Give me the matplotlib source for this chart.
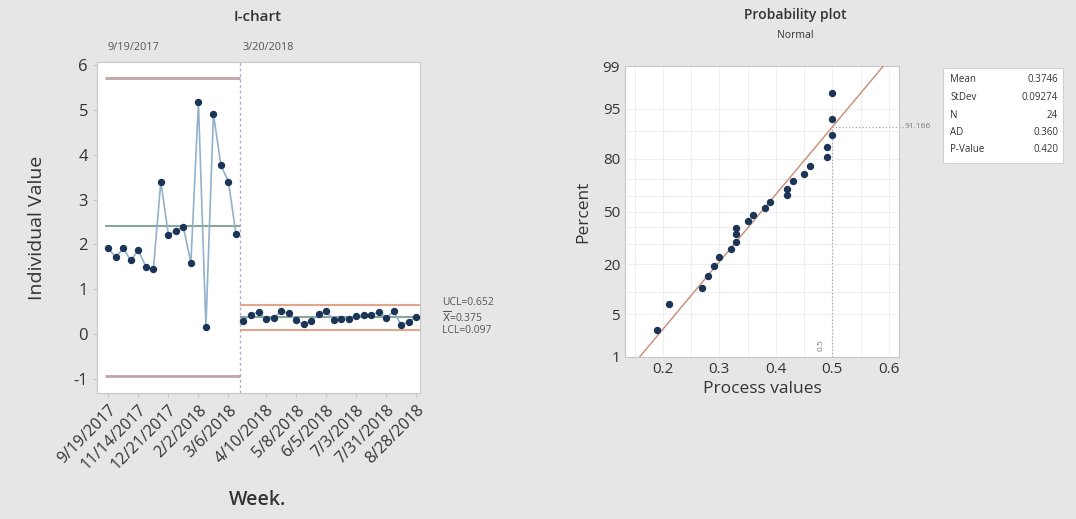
import matplotlib
matplotlib.use('Agg')
import matplotlib.pyplot as plt
from matplotlib.patches import Rectangle
from statistics import NormalDist
import numpy as np

plt.rcParams['font.family'] = ['Open Sans', 'DejaVu Sans']
plt.rcParams['axes.unicode_minus'] = False

# I-chart data (two stages)
stage1_values = [1.91, 1.71, 1.91, 1.64, 1.87, 1.50, 1.44, 3.40, 2.21, 2.30,
                 2.38, 1.59, 5.17, 0.16, 4.91, 3.76, 3.40, 2.23]
stage2_values = [0.29, 0.43, 0.49, 0.33, 0.35, 0.50, 0.46, 0.30, 0.21, 0.28,
                 0.45, 0.50, 0.32, 0.33, 0.33, 0.39, 0.42, 0.42, 0.49, 0.36,
                 0.50, 0.19, 0.27, 0.38]
stage_names = ['9/19/2017', '3/20/2018']
stage_center = [2.41, 0.375]
stage_ucl = [5.71, 0.652]
stage_lcl = [-0.93, 0.097]
week_ticks = [0, 4, 8, 12, 16, 21, 25, 29, 33, 37, 41]
week_labels = ['9/19/2017', '11/14/2017', '12/21/2017', '2/2/2018', '3/6/2018',
               '4/10/2018', '5/8/2018', '6/5/2018', '7/3/2018', '7/31/2018',
               '8/28/2018']

# probability plot summary
stats_names = ['Mean', 'StDev', 'N', 'AD', 'P-Value']
stats_values = ['0.3746', '0.09274', '24', '0.360', '0.420']
pct_ticks = [1, 5, 20, 50, 80, 95, 99]
pct_minor = [10, 30, 40, 60, 70, 90]
mean_fit = 0.3746
sd_fit = 0.09274
ref_x = 0.5
ref_pct = 91.166

W, H = 1076, 519
fig = plt.figure(figsize=(W / 100, H / 100), dpi=100)
fig.patch.set_facecolor('#e6e6e6')

grey = '#c8c8c8'
txt = '#333333'

# ---------------- I-chart ----------------
ax = fig.add_axes([97 / W, 1 - 393 / H, 323 / W, 331 / H])
ax.set_facecolor('white')
n1 = len(stage1_values)
values = stage1_values + stage2_values
idx = np.arange(len(values))
ax.plot(idx[:n1], stage1_values, color='#92b1cb', lw=1.2, zorder=3)
ax.plot(idx[n1:], stage2_values, color='#92b1cb', lw=1.2, zorder=3)
ax.plot(idx, values, 'o', color='#1c3557', ms=4.3, zorder=4)

bounds = [(-0.5, n1 - 0.5), (n1 - 0.5, len(values) - 0.5)]
lim_cols = ['#bfa5a5', '#e3a68a']
for k, (a, b) in enumerate(bounds):
    ax.hlines(stage_ucl[k], a, b, color=lim_cols[k], lw=2 if k == 0 else 1.5, zorder=2)
    ax.hlines(stage_lcl[k], a, b, color=lim_cols[k], lw=2 if k == 0 else 1.5, zorder=2)
    ax.hlines(stage_center[k], a, b, color='#8aa59a', lw=1.5, zorder=2)
    ax.text(a + 0.4, 1.045, stage_names[k], transform=ax.get_xaxis_transform(),
            ha='left', va='center', fontsize=7.8, color='#555555')
ax.axvline(n1 - 0.5, color='#b7a4d6', lw=1, ls=(0, (2, 2)), zorder=1)

ax.set_xlim(-1.5, len(values) - 0.5)
ax.set_ylim(-1.32, 6.07)
ax.set_yticks(range(-1, 7))
ax.set_xticks(week_ticks)
ax.set_xticklabels(week_labels, rotation=45, ha='right', rotation_mode='anchor')
ax.tick_params(axis='y', labelsize=12, colors=grey, labelcolor=txt, length=3)
ax.tick_params(axis='x', labelsize=11.5, colors=grey, labelcolor=txt, length=3)
for s in ax.spines.values():
    s.set_color(grey)

xr = len(values) + 2.4
ax.text(xr, stage_ucl[1] + 0.04, 'UCL=0.652', fontsize=7.5, color='#555555',
        va='center', ha='left', clip_on=False)
ax.text(xr, stage_center[1] - 0.01, r'$\overline{\mathrm{X}}$=0.375', fontsize=7.5,
        color='#555555', va='center', ha='left', clip_on=False)
ax.text(xr, stage_lcl[1] - 0.03, 'LCL=0.097', fontsize=7.5, color='#555555',
        va='center', ha='left', clip_on=False)

ax.set_ylabel('Individual Value', fontsize=14, color=txt, labelpad=20)
fig.text(258 / W, 1 - 500 / H, 'Week.', fontsize=14, color=txt,
         ha='center', va='center', fontweight='semibold')
fig.text(258 / W, 1 - 17 / H, 'I-chart', fontsize=11, color=txt,
         ha='center', va='center', fontweight='semibold')

# ---------------- Probability plot ----------------
nd = NormalDist()
bx = fig.add_axes([625 / W, 1 - 357 / H, 274 / W, 291 / H])
bx.set_facecolor('white')
srt = np.sort(stage2_values)
n = len(srt)
ranks = np.arange(1, n + 1)
z = [nd.inv_cdf((r - 0.3) / (n + 0.4)) for r in ranks]

zl = np.linspace(-3, 3, 50)
bx.plot(mean_fit + sd_fit * zl, zl, color='#c98a74', lw=1, zorder=3)
bx.plot(srt, z, 'o', color='#1c3557', ms=4.3, zorder=4)

zr = nd.inv_cdf(ref_pct / 100)
zlo = nd.inv_cdf(0.01)
bx.plot([ref_x, ref_x], [zlo, zr], color='#999999', lw=0.8, ls=(0, (1, 2)), zorder=2)
bx.plot([ref_x, 0.626], [zr, zr], color='#999999', lw=0.8, ls=(0, (1, 2)),
        zorder=2, clip_on=False)
bx.text(0.628, zr, '91.166', fontsize=6, color='#777777', va='center', ha='left',
        clip_on=False)
bx.text(0.481, zlo + 0.1, '0.5', fontsize=6, color='#777777', rotation=90,
        va='bottom', ha='center')

bx.set_xlim(0.133, 0.618)
bx.set_ylim(nd.inv_cdf(0.01), nd.inv_cdf(0.99))
bx.set_xticks([0.2, 0.3, 0.4, 0.5, 0.6])
bx.set_xticks(np.arange(0.15, 0.62, 0.05), minor=True)
bx.set_yticks([nd.inv_cdf(p / 100) for p in pct_ticks])
bx.set_yticks([nd.inv_cdf(p / 100) for p in pct_minor], minor=True)
bx.set_yticklabels([str(p) for p in pct_ticks])
bx.grid(True, which='both', color='#efefef', lw=0.8, zorder=0)
bx.set_axisbelow(True)
bx.tick_params(which='both', labelsize=11, colors=grey, labelcolor=txt, length=0)
for s in bx.spines.values():
    s.set_color(grey)
bx.set_xlabel('Process values', fontsize=12.5, color=txt, labelpad=3)
bx.set_ylabel('Percent', fontsize=12.5, color=txt, labelpad=8)

fig.text(795 / W, 1 - 15 / H, 'Probability plot', fontsize=10, color=txt,
         ha='center', va='center', fontweight='semibold')
fig.text(795 / W, 1 - 36 / H, 'Normal', fontsize=7.5, color=txt,
         ha='center', va='center')

# statistics box
fig.patches.append(Rectangle((943 / W, 1 - 163 / H), 120 / W, 95 / H,
                             transform=fig.transFigure, facecolor='white',
                             edgecolor='#d0d0d0', lw=0.8))
for i, (nm, vl) in enumerate(zip(stats_names, stats_values)):
    yy = 1 - (80 + i * 17.5) / H
    fig.text(950 / W, yy, nm, fontsize=7, color=txt, va='center', ha='left')
    fig.text(1058 / W, yy, vl, fontsize=7, color=txt, va='center', ha='right')

fig.savefig('out.png', dpi=100, facecolor=fig.get_facecolor())
